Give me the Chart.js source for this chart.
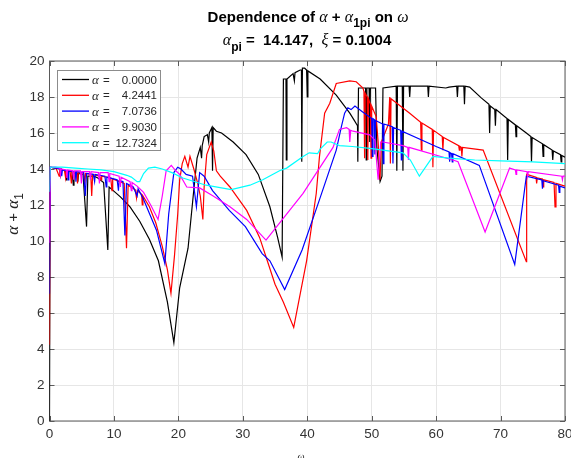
<!DOCTYPE html>
<html>
<head>
<meta charset="utf-8">
<script src="https://cdn.jsdelivr.net/npm/chart.js@4/dist/chart.umd.min.js"></script>
<style>
  html, body { margin: 0; padding: 0; background: #fff; }
</style>
</head>
<body>
<canvas id="c" width="571" height="458"></canvas>
<script>
// alpha values of the five curves (legend)
const alphas = [0.0000, 4.2441, 7.0736, 9.9030, 12.7324];
const colors = ['#000000', '#ff0000', '#0000ff', '#ff00ff', '#00ffff'];
const xTickValues = [0, 10, 20, 30, 40, 50, 60, 70, 80];
const yTickValues = [0, 2, 4, 6, 8, 10, 12, 14, 16, 18, 20];

// [omega, alpha + alpha1]
const curveA0 = [[0,0],[0.1,14.1],[0.9,14.05],[1.6,14.0],[1.7,13.7],[1.8,14.0],[2.5,13.9],[2.6,13.4],[2.7,13.9],
  [3.5,13.85],[3.7,13.1],[3.8,13.8],[4.3,13.75],[4.4,13.3],[4.5,13.75],[5.2,13.7],[5.75,10.8],[5.95,13.6],
  [6.9,13.6],[7.5,13.5],[8.4,13.25],[9.05,9.5],[9.25,13.0],[9.9,12.8],[11,12.45],[12.5,11.9],[14,11.1],
  [15.5,10.1],[16.9,8.9],[18.3,6.6],[19.3,4.35],[20.2,7.4],[21.5,9.6],[22.3,12.5],[22.9,14.6],[23.4,15.2],
  [23.6,14.6],[23.7,15.3],[24.0,15.8],[24.5,15.9],[24.7,15.5],[24.8,16.0],[25.2,16.3],[25.3,13.9],[25.4,16.3],
  [25.9,16.1],[26.7,16.0],[28.5,15.5],[30.5,14.8],[32.4,13.7],[34.2,11.9],[35.4,10.2],[36.1,9.1],[36.3,19.0],
  [36.7,19.0],[36.75,14.5],[36.85,19.0],[37.8,19.3],[38.0,18.9],[38.1,19.35],[38.9,19.5],[39.1,19.5],
  [39.15,14.4],[39.25,19.6],[39.6,19.6],[39.9,19.5],[40.0,18.0],[40.1,19.45],[42.0,19.0],[44.5,18.1],
  [46.6,17.1],[47.3,16.7],[47.8,16.4],[47.85,14.4],[47.95,18.5],[49.05,18.5],[49.15,14.5],[49.25,18.5],
  [49.6,18.5],[49.7,15.5],[49.8,18.5],[50.6,18.5],[50.8,15.2],[51.3,13.3],[51.6,13.6],[51.75,18.5],
  [53.8,18.6],[53.9,13.9],[54.0,18.6],[54.75,18.6],[54.85,13.9],[54.95,18.6],[55.8,18.6],[55.9,18.0],
  [56.0,18.6],[58.7,18.6],[58.8,18.0],[58.9,18.6],[61.5,18.5],[62,18.55],[63.2,18.6],[63.3,18.0],[63.4,18.6],
  [64.3,18.6],[64.4,17.6],[64.5,18.6],[65.2,18.55],[67,17.95],[68.2,17.6],[68.3,16.0],[68.4,17.5],[69.1,17.3],
  [69.2,16.4],[69.3,17.3],[71.0,16.8],[71.1,14.5],[71.2,16.75],[72.3,16.45],[72.4,15.8],[72.5,16.4],
  [74.0,16.0],[74.7,15.8],[74.8,14.4],[74.9,15.75],[76.5,15.4],[76.6,14.7],[76.7,15.35],[78.0,15.05],
  [78.1,14.5],[78.2,15.0],[79.3,14.8],[79.4,14.4],[79.5,14.75],[80,14.65]];

const curveA1 = [[0,4.24],[0.1,14.1],[1.0,14.05],[1.5,13.6],[1.6,14.0],[2.3,13.95],[2.5,13.5],[2.6,13.9],
  [3.2,13.85],[3.4,13.2],[3.5,13.85],[4.2,13.8],[4.35,13.2],[4.45,13.8],[5.3,13.75],[5.5,13.3],[5.6,13.75],
  [6.4,13.7],[6.55,12.5],[6.7,13.7],[7.8,13.6],[8.0,13.4],[8.1,13.6],[9.5,13.5],[9.7,12.8],[9.8,13.45],
  [11.6,13.2],[11.95,9.6],[12.2,13.1],[13.3,12.85],[13.5,12.4],[13.6,12.8],[14.3,12.6],[14.4,12.0],
  [14.5,12.5],[15.5,11.9],[16.5,11.0],[17.5,9.7],[18.3,8.4],[18.85,7.1],[19.4,9.2],[19.9,11.5],[20.2,13.4],
  [20.6,14.3],[21.0,14.7],[21.5,14.1],[21.8,14.7],[22.4,14.0],[23.0,13.2],[23.4,12.5],[23.8,11.2],
  [24.0,13.0],[24.4,14.8],[25.1,15.5],[25.5,15.0],[25.9,13.9],[26.5,13.6],[28.0,13.0],[30.6,11.7],
  [32.6,10.2],[33.8,8.9],[35.0,7.6],[36.3,6.6],[37.9,5.2],[39.9,8.9],[41.4,12.65],[41.9,14.7],[42.7,17.1],
  [43.5,17.65],[44.5,18.75],[46.6,18.9],[47.6,18.85],[48.65,18.5],[48.8,18.3],[48.9,14.6],[49.0,18.2],
  [49.3,18.0],[49.4,14.5],[49.5,17.9],[49.8,17.6],[49.9,14.6],[50.0,17.5],[50.7,16.9],[51.0,15.5],
  [51.3,13.4],[51.5,15.5],[52.6,16.5],[52.8,18.0],[52.9,14.3],[53.0,17.9],[55.9,17.1],[57.6,16.6],
  [57.7,15.05],[57.8,16.55],[59.4,16.2],[59.5,14.1],[59.6,16.15],[60.95,15.8],[61.05,15.05],[61.15,15.75],
  [63.5,15.3],[63.6,15.05],[63.7,15.25],[63.9,15.2],[64.0,14.7],[64.1,15.2],[67.3,15.05],[74.0,8.85],
  [74.05,13.7],[75.5,13.55],[75.6,13.2],[75.7,13.5],[76.5,13.45],[76.6,13.0],[76.7,13.4],[78.3,13.25],
  [78.45,11.9],[78.6,13.2],[80,13.05]];

const curveA2 = [[0,7.07],[0.1,14.1],[1.0,14.05],[1.8,14.0],[1.9,13.6],[2.0,13.95],[2.8,13.9],[2.9,13.4],
  [3.0,13.9],[4.0,13.85],[4.1,13.3],[4.2,13.85],[5.3,13.8],[5.55,12.5],[5.75,13.75],[6.8,13.7],[7.0,13.3],
  [7.1,13.7],[8.6,13.6],[8.8,13.0],[8.9,13.55],[10.5,13.4],[10.7,12.8],[10.8,13.35],[11.4,13.3],[11.7,10.3],
  [11.95,13.2],[13.0,13.0],[13.6,12.5],[13.75,12.9],[14.6,12.3],[16.6,10.6],[17.9,8.75],[18.5,11.5],
  [19.3,13.8],[19.9,14.1],[20.4,14.0],[21.2,13.7],[22.2,13.6],[22.8,11.9],[23.3,13.8],[24.0,13.6],
  [25.3,12.8],[27.9,11.7],[30.4,10.8],[33.0,9.3],[34.2,8.9],[36.5,7.3],[39.2,9.5],[41.9,12.3],[44.5,15.05],
  [45.3,16.35],[45.8,17.1],[46.3,17.4],[46.8,17.3],[47.4,17.5],[48.5,17.2],[50.0,16.8],[50.1,14.7],
  [50.2,16.8],[50.4,16.75],[50.5,14.8],[50.6,16.7],[51.7,16.5],[51.8,14.3],[51.9,16.5],[53.2,16.35],
  [53.3,14.3],[53.4,16.3],[54.5,16.15],[54.6,14.5],[54.7,16.1],[60.0,15.25],[62.0,14.95],[62.1,14.4],
  [62.2,14.9],[62.4,14.85],[62.5,14.4],[62.6,14.85],[66.7,14.2],[72.2,8.7],[74.0,13.6],[76.4,13.4],
  [76.5,12.9],[76.6,13.35],[79.0,13.1],[79.1,12.7],[79.2,13.05],[80,12.95]];

const curveA3 = [[0,9.9],[0.1,14.1],[0.9,14.1],[1.6,14.05],[1.7,13.7],[1.8,14.0],[2.6,13.95],[2.7,13.5],
  [2.8,13.95],[3.6,13.9],[3.75,13.4],[3.85,13.9],[4.8,13.9],[4.95,13.2],[5.05,13.85],[6.2,13.85],[6.35,13.4],
  [6.45,13.85],[7.6,13.8],[7.75,13.2],[7.85,13.8],[9.1,13.8],[9.25,13.3],[9.35,13.75],[10.8,13.6],
  [11.0,13.0],[11.1,13.55],[12.5,13.3],[12.7,12.8],[12.8,13.25],[13.6,13.05],[14.6,12.7],[15.7,12.0],
  [16.85,11.2],[17.5,12.5],[18.1,13.9],[18.9,14.2],[19.6,13.9],[20.2,13.7],[21.3,13.0],[23.3,12.95],
  [25.4,12.5],[28.0,11.9],[30.6,11.2],[33.6,10.05],[39.35,12.65],[44.0,15.2],[45.0,16.2],[46.1,16.3],
  [46.5,16.2],[46.6,15.5],[46.75,16.15],[47.1,16.1],[49.7,15.9],[50.5,15.6],[51.0,13.4],[51.4,15.5],
  [51.75,15.5],[54.85,15.3],[55.6,15.2],[55.7,14.5],[55.8,15.2],[62.6,14.5],[63.4,14.4],[67.6,10.5],
  [71.4,14.05],[72.3,13.95],[72.4,13.7],[72.5,13.95],[74.1,13.85],[74.2,13.6],[74.3,13.85],[79.5,13.6],
  [79.6,13.4],[79.7,13.6],[80,13.6]];

const curveA4 = [[0,12.73],[0.1,14.1],[2,14.1],[4,14.05],[6,14.0],[8,13.95],[10,13.85],[12,13.65],
  [12.7,13.55],[13.6,13.3],[14.0,13.3],[14.6,13.75],[15.35,14.05],[16.35,14.1],[17.5,14.0],[19,13.8],
  [20.7,13.5],[24.3,13.1],[28.2,12.85],[31.1,13.1],[33.1,13.4],[35.7,13.9],[36.8,14.05],[39.35,14.7],
  [40.3,14.9],[41.6,14.85],[42.0,15.1],[43.1,15.5],[43.7,15.5],[45.0,15.3],[47,15.25],[49.7,15.15],
  [54.85,14.9],[56.0,14.5],[57.4,13.6],[59.5,14.7],[62,14.6],[66,14.5],[70,14.45],[75,14.4],[80,14.3]];

const curves = [curveA0, curveA1, curveA2, curveA3, curveA4];

const AX = '#5a5a5a';
const SANS = '"Liberation Sans", Arial, sans-serif';
const SERIF = '"Liberation Serif", "DejaVu Serif", serif';

function drawRuns(ctx, runs, cx, baseline) {
  let total = 0;
  runs.forEach(r => { ctx.font = r.f; total += ctx.measureText(r.t).width; });
  let x = cx - total / 2;
  ctx.textAlign = 'left';
  ctx.textBaseline = 'alphabetic';
  runs.forEach(r => {
    ctx.font = r.f;
    ctx.fillText(r.t, x, baseline + (r.dy || 0));
    x += ctx.measureText(r.t).width;
  });
}

const decor = {
  id: 'decor',
  beforeDatasetsDraw(chart) {
    const { ctx, chartArea: a, scales } = chart;
    ctx.save();
    ctx.strokeStyle = AX;
    ctx.lineWidth = 1;
    ctx.strokeRect(a.left, a.top, a.right - a.left, a.bottom - a.top);
    ctx.beginPath();
    xTickValues.forEach(v => {
      const px = Math.round(scales.x.getPixelForValue(v)) + 0.5;
      ctx.moveTo(px, a.bottom); ctx.lineTo(px, a.bottom - 5);
      ctx.moveTo(px, a.top); ctx.lineTo(px, a.top + 5);
    });
    yTickValues.forEach(v => {
      const py = Math.round(scales.y.getPixelForValue(v)) + 0.5;
      ctx.moveTo(a.left, py); ctx.lineTo(a.left + 5, py);
      ctx.moveTo(a.right, py); ctx.lineTo(a.right - 5, py);
    });
    ctx.stroke();
    ctx.restore();
  },
  afterDraw(chart) {
    const { ctx } = chart;
    ctx.save();
    ctx.fillStyle = '#000';
    const b15 = 'bold 15px ' + SANS, b11 = 'bold 12px ' + SANS, i16 = 'italic 16px ' + SERIF;
    drawRuns(ctx, [
      { t: 'Dependence of ', f: b15 }, { t: 'α', f: i16 }, { t: ' + ', f: b15 },
      { t: 'α', f: i16 }, { t: '1pi', f: b11, dy: 5 }, { t: ' on ', f: b15 }, { t: 'ω', f: i16 }
    ], 308, 22);
    drawRuns(ctx, [
      { t: 'α', f: i16 }, { t: 'pi', f: b11, dy: 6 }, { t: ' =  14.147,  ', f: b15 },
      { t: 'ξ', f: i16 }, { t: ' = 0.1004', f: b15 }
    ], 307, 45);

    // y axis label
    ctx.fillStyle = '#262626';
    ctx.save();
    ctx.translate(18, 214);
    ctx.rotate(-Math.PI / 2);
    drawRuns(ctx, [
      { t: 'α', f: 'italic 17px ' + SERIF }, { t: ' + ', f: '15px ' + SANS },
      { t: 'α', f: 'italic 17px ' + SERIF }, { t: '1', f: '12px ' + SANS, dy: 5 }
    ], 0, 0);
    ctx.restore();

    // x axis label (cut at bottom edge)
    drawRuns(ctx, [{ t: 'ω', f: 'italic 10px ' + SERIF }], 301, 460);

    // legend
    const lx = 57.5, ly = 70.5, lw = 103, lh = 80;
    ctx.fillStyle = '#fff';
    ctx.fillRect(lx, ly, lw, lh);
    ctx.strokeStyle = '#8c8c8c';
    ctx.lineWidth = 1;
    ctx.strokeRect(lx, ly, lw, lh);
    alphas.forEach((al, i) => {
      const y = 79.5 + i * 15.8;
      ctx.strokeStyle = colors[i];
      ctx.lineWidth = 1.3;
      ctx.beginPath();
      ctx.moveTo(62, y); ctx.lineTo(89, y);
      ctx.stroke();
      ctx.fillStyle = '#262626';
      ctx.textBaseline = 'middle';
      ctx.textAlign = 'left';
      ctx.font = 'italic 13px ' + SERIF;
      ctx.fillText('α', 92, y + 1);
      ctx.font = '11.5px ' + SANS;
      ctx.fillText('=', 103, y + 1);
      ctx.textAlign = 'right';
      ctx.fillText(al.toFixed(4), 157, y + 1);
    });
    ctx.restore();
  }
};

new Chart(document.getElementById('c'), {
  type: 'line',
  data: {
    datasets: curves.map((c, i) => ({
      label: 'α = ' + alphas[i].toFixed(4),
      data: c.map(p => ({ x: p[0], y: p[1] })),
      borderColor: colors[i],
      borderWidth: 1.2,
      pointRadius: 0,
      tension: 0,
      fill: false,
      order: 4 - i
    }))
  },
  options: {
    responsive: false,
    animation: false,
    devicePixelRatio: 1,
    layout: { padding: { top: 61, right: 6, left: 0, bottom: 0 } },
    plugins: { legend: { display: false }, title: { display: false }, tooltip: { enabled: false } },
    scales: {
      x: {
        type: 'linear', min: 0, max: 80,
        afterFit: s => { s.height = 37; s.paddingLeft = 0; s.paddingRight = 0; },
        ticks: { stepSize: 10, padding: 5, color: '#333', font: { family: SANS, size: 13.5 }, maxRotation: 0 },
        grid: { color: '#e6e6e6', drawTicks: false, tickLength: 0 },
        border: { display: false }
      },
      y: {
        min: 0, max: 20,
        afterFit: s => { s.width = 49.5; s.paddingTop = 0; s.paddingBottom = 0; },
        ticks: { stepSize: 2, padding: 5, color: '#333', font: { family: SANS, size: 13.5 } },
        grid: { color: '#e6e6e6', drawTicks: false, tickLength: 0 },
        border: { display: false }
      }
    }
  },
  plugins: [decor]
});
</script>
</body>
</html>
